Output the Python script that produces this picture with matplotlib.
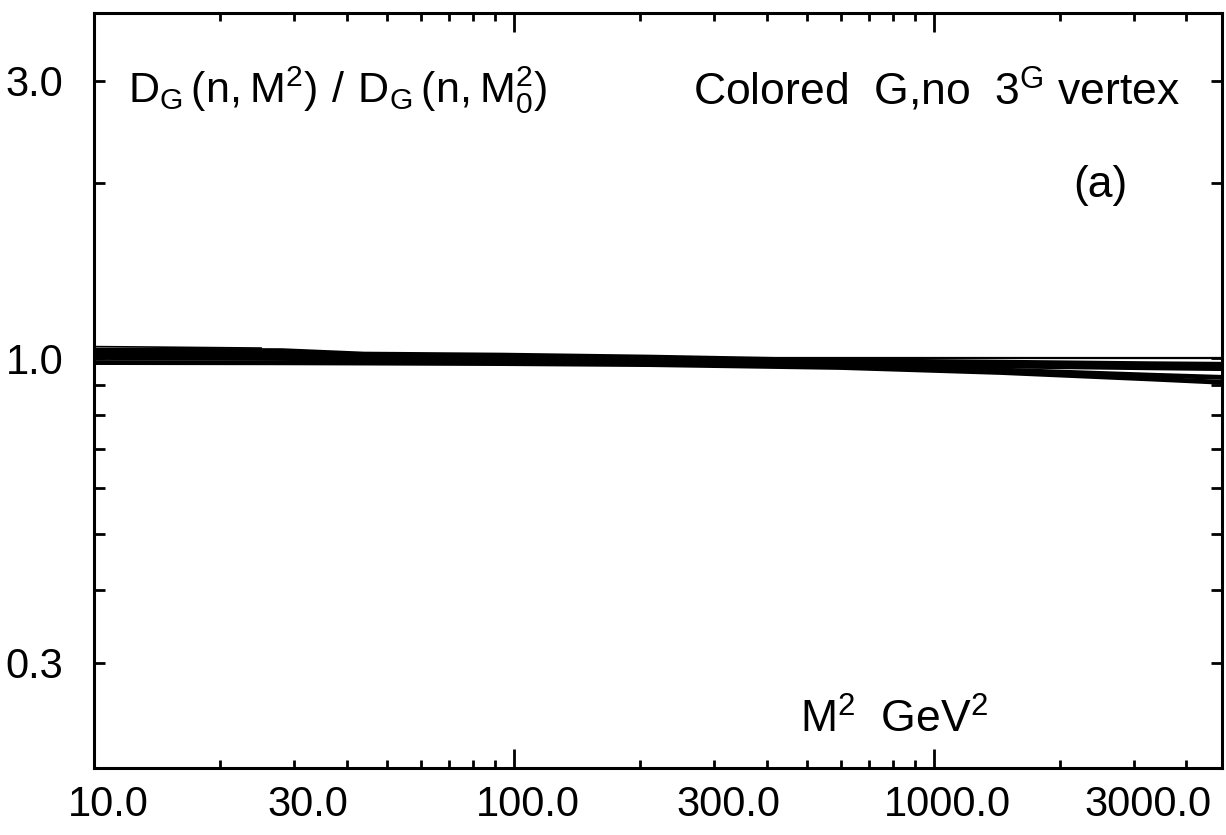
import numpy as np
import matplotlib
matplotlib.use("Agg")
import matplotlib.pyplot as plt
import matplotlib.ticker as mticker
import matplotlib.transforms as mtrans

plt.rcParams['font.family'] = ['Liberation Sans', 'DejaVu Sans']

m2 = [10, 28, 44, 93, 211, 600, 1450, 3300, 4860]

# ratio D_G(n,M^2)/D_G(n,M0^2), several n
ratio_a = [1.032, 1.030, 1.016, 1.012, 1.004, 0.990, 0.984, 0.978, 0.976]
ratio_b = [1.020, 1.016, 1.008, 1.002, 0.995, 0.983, 0.972, 0.965, 0.962]
ratio_c = [1.004, 1.000, 0.996, 0.991, 0.985, 0.974, 0.955, 0.936, 0.928]
ratio_d = [0.984, 0.983, 0.982, 0.980, 0.976, 0.965, 0.946, 0.922, 0.910]
ref_x = [10, 4860]
ref_y = [1.0, 1.0]
thin_x = [10, 14, 25]
thin_y = [1.048, 1.046, 1.042]

xticks_lab = [10, 30, 100, 300, 1000, 3000]
yticks_lab = [0.3, 1.0, 3.0]

fig = plt.figure(figsize=(12.26, 8.35), dpi=100)
ax = fig.add_axes([94/1226, 1-768/835, 1128/1226, 755/835])

for yy, lw in [(ratio_a, 4), (ratio_b, 4), (ratio_c, 3.5), (ratio_d, 3.5)]:
    ax.plot(m2, yy, color='black', lw=lw, solid_capstyle='butt')
ax.plot(ref_x, ref_y, color='black', lw=1.6)
ax.plot(thin_x, thin_y, color='black', lw=1.2)

ax.set_xscale('log')
ax.set_yscale('log')
ax.set_xlim(10, 4860)
ax.set_ylim(0.198, 3.92)

# x ticks: long at decades, short elsewhere
ax.xaxis.set_major_locator(mticker.FixedLocator([10, 100, 1000]))
ax.xaxis.set_minor_locator(mticker.FixedLocator(
    [20, 30, 40, 50, 60, 70, 80, 90, 200, 300, 400, 500, 600, 700, 800, 900, 2000, 3000, 4000]))
ax.xaxis.set_major_formatter(mticker.FuncFormatter(lambda v, p: '%.1f' % v))
ax.xaxis.set_minor_formatter(mticker.FuncFormatter(
    lambda v, p: '%.1f' % v if int(round(v)) in xticks_lab else ''))

ax.yaxis.set_major_locator(mticker.FixedLocator(yticks_lab))
ax.yaxis.set_minor_locator(mticker.FixedLocator([0.4, 0.5, 0.6, 0.7, 0.8, 0.9, 2.0]))
ax.yaxis.set_major_formatter(mticker.FuncFormatter(lambda v, p: '%.1f' % v))
ax.yaxis.set_minor_formatter(mticker.NullFormatter())

ax.tick_params(axis='both', which='both', direction='in', top=True, right=True,
               labelsize=30, width=2)
ax.tick_params(axis='x', which='major', length=14, pad=12)
ax.tick_params(axis='x', which='minor', length=6, pad=12)
ax.tick_params(axis='y', which='both', length=8, pad=22)

for s in ax.spines.values():
    s.set_linewidth(2.2)

# labels on the scan sit a bit right of their ticks
shift = mtrans.ScaledTranslation(0.14, 0, fig.dpi_scale_trans)
for t in ax.xaxis.get_major_ticks() + ax.xaxis.get_minor_ticks():
    t.label1.set_transform(t.label1.get_transform() + shift)

ax.text(0.030, 0.898, r'$\mathregular{D_G\,(n,M^2)\ /\ D_G\,(n,M_0^2)}$',
        transform=ax.transAxes, fontsize=31, ha='left', va='center')
ax.text(0.963, 0.898, r'Colored  G,no  3$^{\mathregular{G}}$ vertex',
        transform=ax.transAxes, fontsize=32, ha='right', va='center')
ax.text(0.892, 0.772, '(a)', transform=ax.transAxes, fontsize=32,
        ha='center', va='center')
ax.text(0.626, 0.064, r'M$^{\mathregular{2}}$  GeV$^{\mathregular{2}}$',
        transform=ax.transAxes, fontsize=32, ha='left', va='center')

fig.savefig('out.png', dpi=100, facecolor='white')
